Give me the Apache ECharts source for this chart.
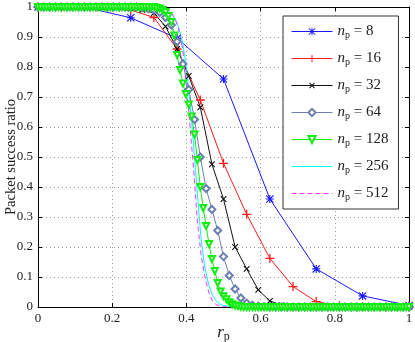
<!DOCTYPE html>
<html>
<head>
<meta charset="utf-8">
<script src="https://cdn.jsdelivr.net/npm/echarts@6/dist/echarts.min.js"></script>
<style>
  html, body { margin: 0; padding: 0; background: #fff; }
  #main { width: 415px; height: 342px; }
</style>
</head>
<body>
<div id="main"></div>
<script>
// r_p is sampled at k/np for the marker curves
const npList = [8, 16, 32, 64, 128, 256, 512]

const psr8 = [1, 1, 0.964, 0.896, 0.76, 0.36, 0.127, 0.037, 0.005]

const psr16 = [1, 1, 1, 0.998, 0.99, 0.965, 0.86, 0.69, 0.479, 0.309, 0.162, 0.068, 0.018, 0.004, 0.001, 0, 0]

const psr32 = [1, 1, 1, 1, 1, 1, 1, 1,
  0.995, 0.99, 0.98, 0.935, 0.86, 0.77, 0.666, 0.476, 0.36, 0.2, 0.127, 0.057, 0.02, 0.006, 0.002,
  0, 0, 0, 0, 0, 0, 0, 0, 0, 0]

const psr64 = [1, 1, 1, 1, 1, 1, 1, 1, 1, 1, 1, 1, 1, 1, 1, 1, 1, 1,
  0.997, 0.995, 0.99, 0.982, 0.965, 0.94, 0.885, 0.81, 0.725, 0.625, 0.5,
  0.395, 0.325, 0.255, 0.168, 0.105, 0.06, 0.03, 0.013, 0.006, 0.003, 0.001,
  0, 0, 0, 0, 0, 0, 0, 0, 0, 0, 0, 0, 0, 0, 0, 0, 0, 0, 0, 0, 0, 0, 0, 0, 0]

const psr128 = [1, 1, 1, 1, 1, 1, 1, 1, 1, 1,
  1, 1, 1, 1, 1, 1, 1, 1, 1, 1,
  1, 1, 1, 1, 1, 1, 1, 1, 1, 1,
  1, 1, 1, 1, 1, 1, 1, 1, 1, 1,
  1,
  0.997, 0.995, 0.99, 0.983, 0.97, 0.95, 0.905, 0.84, 0.79, 0.745,
  0.71, 0.675, 0.635, 0.575, 0.49, 0.40, 0.33, 0.27, 0.21, 0.16,
  0.12, 0.08, 0.052, 0.036, 0.026, 0.016, 0.009, 0.005, 0.003, 0.001,
  0, 0, 0, 0, 0, 0, 0, 0, 0, 0,
  0, 0, 0, 0, 0, 0, 0, 0, 0, 0,
  0, 0, 0, 0, 0, 0, 0, 0, 0, 0,
  0, 0, 0, 0, 0, 0, 0, 0, 0, 0,
  0, 0, 0, 0, 0, 0, 0, 0, 0, 0,
  0, 0, 0, 0, 0, 0, 0, 0]

// curves drawn without markers, read off at these r_p values
const rp256 = [0, 0.33, 0.35, 0.37, 0.38, 0.39, 0.40, 0.41, 0.42, 0.43, 0.44, 0.45, 0.46, 0.47, 0.48, 0.49, 0.50, 0.52, 0.54, 1]
const psr256 = [1, 1, 0.99, 0.96, 0.93, 0.88, 0.8, 0.68, 0.53, 0.37, 0.22, 0.13, 0.075, 0.04, 0.02, 0.01, 0.005, 0.002, 0, 0]

const rp512 = [0, 0.34, 0.355, 0.37, 0.38, 0.39, 0.40, 0.41, 0.42, 0.43, 0.44, 0.45, 0.46, 0.47, 0.48, 0.50, 0.52, 1]
const psr512 = [1, 1, 0.99, 0.96, 0.92, 0.86, 0.74, 0.6, 0.45, 0.28, 0.17, 0.1, 0.05, 0.02, 0.008, 0.001, 0, 0]

const xTicks = [0, 0.2, 0.4, 0.6, 0.8, 1]

const serif = '"Liberation Serif", "DejaVu Serif", serif'
const asterisk = 'path://M0,4.3H10V5.7H0Z M4.3,0H5.7V10H4.3Z M1,0L10,9L9,10L0,1Z M9,0L10,1L1,10L0,9Z'
const plus = 'path://M0,4.3H10V5.7H0Z M4.3,0H5.7V10H4.3Z'

function stepped (ys, n) {
  return ys.map((y, i) => [i / n, y])
}
function paired (xs, ys) {
  return xs.map((x, i) => [x, ys[i]])
}
function label (n) {
  return 'n_p = ' + n
}

let myChart = echarts.init(document.getElementById('main'))

function lineSeries (name, data, color, symbol, size, extra) {
  return Object.assign({
    name: name,
    type: 'line',
    data: data,
    color: color,
    symbol: symbol,
    symbolSize: size,
    showSymbol: true,
    showAllSymbol: true,
    lineStyle: { width: 1, color: color },
    itemStyle: { color: color, borderWidth: 0 },
    emphasis: { disabled: true },
    z: 2
  }, extra || {})
}

let series = [
  lineSeries(label(8), stepped(psr8, 8), '#1a1aff', asterisk, 8),
  lineSeries(label(16), stepped(psr16, 16), '#ff1a1a', plus, 9),
  lineSeries(label(32), stepped(psr32, 32), '#111111', plus, 8, { symbolRotate: 45 }),
  lineSeries(label(64), stepped(psr64, 64), '#6b7fb0', 'emptyDiamond', 7,
    { itemStyle: { color: '#6b7fb0', borderWidth: 1 } }),
  lineSeries(label(128), stepped(psr128, 128), '#10ee10', 'emptyTriangle', 6,
    { symbolRotate: 180, itemStyle: { color: '#10ee10', borderWidth: 1 } }),
  lineSeries(label(256), paired(rp256, psr256), '#00ffff', 'circle', 0, { showSymbol: false }),
  lineSeries(label(512), paired(rp512, psr512), '#ff33ff', 'circle', 0,
    { showSymbol: false, lineStyle: { width: 1, color: '#ff33ff', type: [5, 3] } })
]

let legendData = npList.map(n => {
  if (n >= 256) {
    return { name: label(n), itemStyle: { opacity: 0 } }
  }
  return { name: label(n) }
})

let tickStyle = { show: true, inside: true, length: 4, lineStyle: { color: '#000' } }
let axisLineStyle = { show: true, onZero: false, lineStyle: { color: '#000', width: 1 } }
let gridStyle = { show: true, lineStyle: { color: '#9a9a9a', type: [1, 3], width: 1 } }

let option = {
  backgroundColor: '#ffffff',
  animation: false,
  grid: { left: 38, right: 6, top: 7, bottom: 35, outerBoundsMode: 'none' },
  legend: {
    orient: 'vertical',
    left: 283,
    top: 16,
    data: legendData,
    backgroundColor: '#fff',
    borderColor: '#333',
    borderWidth: 1,
    padding: [7, 10, 7, 8],
    itemWidth: 41,
    itemHeight: 9,
    itemGap: 10,
    selectedMode: false,
    lineStyle: { width: 1 },
    formatter: function (name) {
      let n = name.split('= ')[1]
      return '{n|n}{p|p}{t| = ' + n + '}'
    },
    textStyle: {
      width: 56,
      color: '#222',
      fontFamily: serif,
      rich: {
        n: { fontSize: 15, fontStyle: 'italic', fontFamily: serif, color: '#222', lineHeight: 15 },
        p: { fontSize: 10, fontFamily: serif, color: '#222', padding: [7, 0, 0, 0], lineHeight: 15 },
        t: { fontSize: 15, fontFamily: serif, color: '#222', lineHeight: 15 }
      }
    }
  },
  xAxis: [
    {
      type: 'value',
      position: 'bottom',
      min: 0,
      max: 1,
      interval: 0.2,
      axisLine: axisLineStyle,
      axisTick: tickStyle,
      splitLine: gridStyle,
      axisLabel: {
        margin: 5,
        color: '#222',
        fontFamily: serif,
        fontSize: 13,
        customValues: xTicks
      },
      name: '{r|r}{p|p}',
      nameLocation: 'middle',
      nameGap: 16,
      nameMoveOverlap: false,
      nameTextStyle: {
        rich: {
          r: { fontSize: 17, fontStyle: 'italic', fontFamily: serif, color: '#222' },
          p: { fontSize: 12, fontFamily: serif, color: '#222', padding: [8, 0, 0, 0] }
        }
      }
    },
    {
      type: 'value',
      position: 'top',
      min: 0,
      max: 1,
      interval: 0.2,
      axisLine: axisLineStyle,
      axisTick: tickStyle,
      splitLine: { show: false },
      axisLabel: { show: false }
    }
  ],
  yAxis: [
    {
      type: 'value',
      position: 'left',
      min: 0,
      max: 1,
      interval: 0.1,
      axisLine: axisLineStyle,
      axisTick: tickStyle,
      splitLine: gridStyle,
      axisLabel: { margin: 5, color: '#222', fontFamily: serif, fontSize: 13 },
      name: 'Packet success ratio',
      nameLocation: 'middle',
      nameGap: 19,
      nameMoveOverlap: false,
      nameTextStyle: { fontFamily: serif, fontSize: 14.5, color: '#222' }
    },
    {
      type: 'value',
      position: 'right',
      min: 0,
      max: 1,
      interval: 0.1,
      axisLine: axisLineStyle,
      axisTick: tickStyle,
      splitLine: { show: false },
      axisLabel: { show: false }
    }
  ],
  series: series
}

myChart.clear()
myChart.setOption(option)
</script>
</body>
</html>
